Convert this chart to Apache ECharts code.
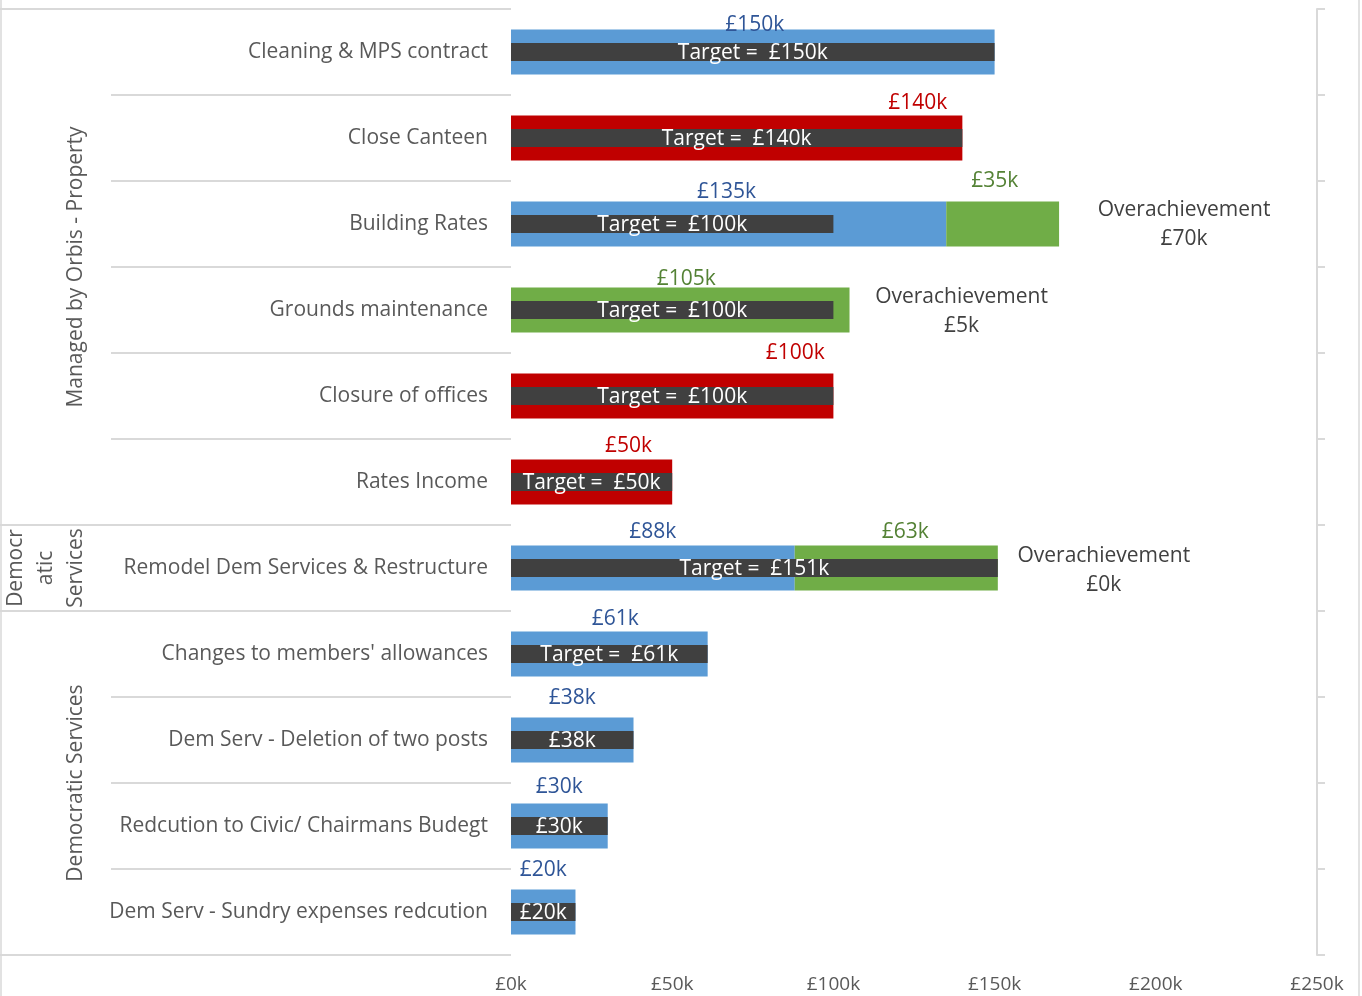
<!DOCTYPE html>
<html>
<head>
<meta charset="utf-8">
<script src="https://cdn.jsdelivr.net/npm/echarts@6/dist/echarts.min.js"></script>
<style>
  html, body { margin: 0; padding: 0; background: #fff; }
  #chart { width: 1362px; height: 996px; }
</style>
</head>
<body>
<div id="chart"></div>
<script>
// ---------------- DATA ----------------
const categories = [
  "Cleaning & MPS contract",
  "Close Canteen",
  "Building Rates",
  "Grounds maintenance",
  "Closure of offices",
  "Rates Income",
  "Remodel Dem Services & Restructure",
  "Changes to members' allowances",
  "Dem Serv - Deletion of two posts",
  "Redcution to Civic/ Chairmans Budegt",
  "Dem Serv - Sundry expenses redcution"
];
const achieved = [150, 140, 135, 105, 100, 50, 88, 61, 38, 30, 20];
const status   = ["met", "unmet", "met", "over", "unmet", "unmet", "met", "met", "met", "met", "met"];
const extra    = [null, null, 35, null, null, null, 63, null, null, null, null];
const targets  = [150, 140, 100, 100, 100, 50, 151, 61, 38, 30, 20];
const targetPrefix = [true, true, true, true, true, true, true, true, false, false, false];
const overachievement = [null, null, 70, 5, null, null, 0, null, null, null, null];
const groups = [
  { name: "Managed by Orbis - Property", from: 0, to: 5 },
  { name: "Democr\natic\nServices", from: 6, to: 6 },
  { name: "Democratic Services", from: 7, to: 10 }
];
const xTickValues = [0, 50, 100, 150, 200, 250];

// ---------------- STYLE ----------------
const FONT = "Open Sans";
const FS = 21;
const barColor = { met: "#5B9BD5", unmet: "#C00000", over: "#70AD47" };
const labelColor = { met: "#2F5597", unmet: "#C00000", over: "#548235" };
const greenLabel = "#548235";
const darkBar = "#404040";
const greyText = "#595959";
const lineGrey = "#D9D9D9";
// manual label nudges [dx, dy] (as placed in the original)
const valueLabelShift = [[2,11],[181,3],[-2,6],[6,7],[123,-5],[37,2],[0,2],[6,3],[0,-4],[0,-1],[0,-4]];
const extraLabelShift = { 2: [-8, -5], 6: [9, 2] };
const overLabelDistance = { 2: 39, 3: 26, 6: 20 };
const overLabelDy = { 2: 1, 3: 2, 6: 3 };

const fmtK = v => "£" + v + "k";

const baseData = achieved.map((v, i) => ({
  value: v,
  itemStyle: { color: barColor[status[i]] },
  label: {
    show: true,
    position: "top",
    formatter: fmtK(v),
    color: labelColor[status[i]],
    fontSize: FS,
    fontFamily: FONT,
    offset: valueLabelShift[i]
  }
}));

const extraData = extra.map((v, i) => v == null ? null : ({
  value: v,
  label: {
    show: true,
    position: "top",
    formatter: fmtK(v),
    color: greenLabel,
    fontSize: FS,
    fontFamily: FONT,
    offset: extraLabelShift[i] || [0, 0]
  }
}));

const overAnchor = overachievement.map((v, i) => v == null ? null : ({
  value: 0,
  label: {
    show: true,
    position: "right",
    distance: overLabelDistance[i],
    offset: [0, overLabelDy[i]],
    formatter: "{a|Overachievement}\n{a|" + fmtK(v) + "}",
    rich: {
      a: { width: 172, align: "center", fontSize: FS, fontFamily: FONT, color: "#404040", lineHeight: 29 }
    }
  }
}));

const targetData = targets.map((v, i) => ({
  value: v,
  label: {
    show: true,
    position: "inside",
    offset: [0, 1],
    formatter: (targetPrefix[i] ? "Target =  " : "") + fmtK(v),
    color: "#FFFFFF",
    fontSize: FS,
    fontFamily: FONT
  }
}));

const chart = echarts.init(document.getElementById("chart"), null, { renderer: "canvas" });

const option = {
  animation: false,
  backgroundColor: "#FFFFFF",
  textStyle: { fontFamily: FONT },
  grid: { left: 511, right: 45, top: 9, bottom: 41, containLabel: false },
  xAxis: {
    type: "value",
    min: 0, max: 250, interval: 50,
    axisLine: { show: false },
    axisTick: { show: false },
    splitLine: { show: false },
    axisLabel: {
      color: greyText, fontSize: 19, fontFamily: FONT, margin: 20,
      formatter: v => xTickValues.indexOf(v) >= 0 ? fmtK(v) : ""
    }
  },
  yAxis: [
    {
      type: "category",
      data: categories,
      inverse: true,
      position: "left",
      axisLine: { show: false },
      axisTick: { show: true, length: 400, lineStyle: { color: lineGrey, width: 2 } },
      axisLabel: { color: greyText, fontSize: FS, fontFamily: FONT, margin: 23, padding: [5, 0, 0, 0] },
      splitLine: { show: false }
    },
    {
      type: "category",
      data: categories,
      inverse: true,
      position: "right",
      axisLine: { show: true, lineStyle: { color: lineGrey, width: 2 } },
      axisTick: { show: true, length: 8, lineStyle: { color: lineGrey, width: 2 } },
      axisLabel: { show: false },
      splitLine: { show: false }
    }
  ],
  series: [
    {
      name: "Achieved", type: "bar", yAxisIndex: 0, stack: "total",
      barWidth: 45, data: baseData, z: 2
    },
    {
      name: "Extra", type: "bar", yAxisIndex: 0, stack: "total",
      barWidth: 45, itemStyle: { color: barColor.over }, data: extraData, z: 2
    },
    {
      name: "OverLabel", type: "bar", yAxisIndex: 0, stack: "total",
      barWidth: 45, itemStyle: { color: "transparent" }, data: overAnchor, z: 2, silent: true
    },
    {
      name: "Target", type: "bar", yAxisIndex: 1,
      barWidth: 18, itemStyle: { color: darkBar }, data: targetData, z: 5
    }
  ]
};
chart.setOption(option);

// ------------- group labels and separators (computed from the axis) -------------
const c0 = chart.convertToPixel({ yAxisIndex: 0 }, categories[0]);
const c1 = chart.convertToPixel({ yAxisIndex: 0 }, categories[1]);
const band = c1 - c0;
const plotLeft = chart.convertToPixel({ xAxisIndex: 0 }, 0);
const groupLabelX = [76, 46, 76];
const graphics = [];
const boundaries = new Set();
groups.forEach((g, gi) => {
  const yTop = chart.convertToPixel({ yAxisIndex: 0 }, categories[g.from]) - band / 2;
  const yBot = chart.convertToPixel({ yAxisIndex: 0 }, categories[g.to]) + band / 2;
  boundaries.add(Math.round(yTop * 2) / 2);
  boundaries.add(Math.round(yBot * 2) / 2);
  graphics.push({
    type: "text",
    x: groupLabelX[gi],
    y: (yTop + yBot) / 2,
    rotation: Math.PI / 2,
    style: {
      text: g.name,
      fill: greyText,
      font: FS + "px '" + FONT + "'",
      textAlign: "center",
      textVerticalAlign: "middle",
      lineHeight: 30
    }
  });
});
boundaries.forEach(y => {
  graphics.push({
    type: "line",
    shape: { x1: 0, y1: y, x2: plotLeft, y2: y },
    style: { stroke: lineGrey, lineWidth: 2 }
  });
});
graphics.push({
  type: "rect",
  shape: { x: 1, y: -3, width: 1358, height: 1004 },
  style: { fill: "none", stroke: lineGrey, lineWidth: 1.5 },
  silent: true
});
chart.setOption({ graphic: graphics });
</script>
</body>
</html>
